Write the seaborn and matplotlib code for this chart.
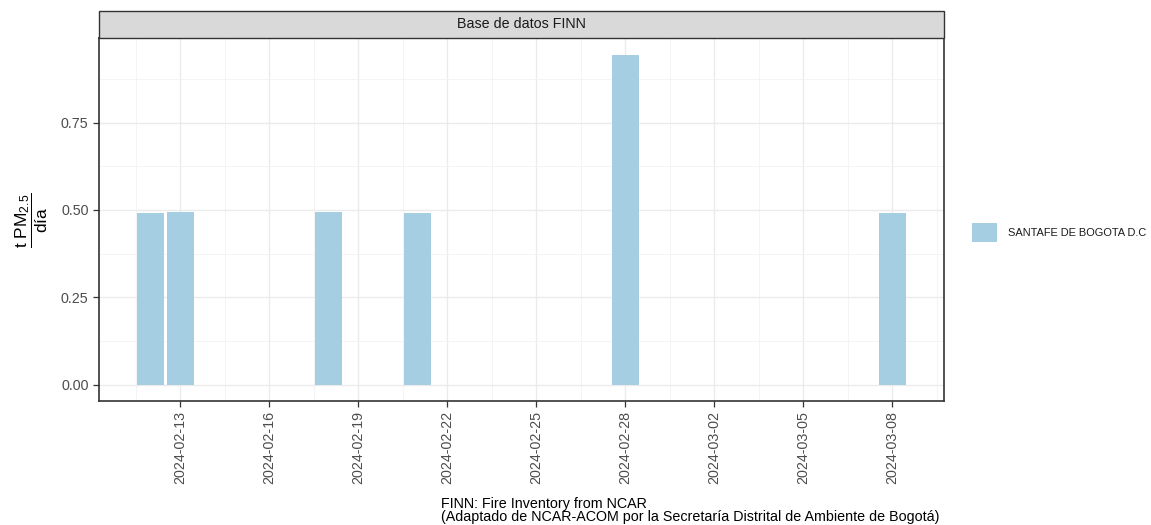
import matplotlib
matplotlib.use("Agg")
import matplotlib.pyplot as plt
import matplotlib.dates as mdates
from matplotlib.ticker import FixedLocator, FuncFormatter
from matplotlib.patches import Rectangle
import seaborn as sns
import pandas as pd
import numpy as np

# ---- data ----
dates = ["2024-02-12", "2024-02-13", "2024-02-18", "2024-02-21", "2024-02-28", "2024-03-08"]
values = [0.491, 0.495, 0.495, 0.491, 0.945, 0.491]
region = "SANTAFE DE BOGOTA D.C"
strip_title = "Base de datos FINN"
x_tick_dates = ["2024-02-13", "2024-02-16", "2024-02-19", "2024-02-22", "2024-02-25",
                "2024-02-28", "2024-03-02", "2024-03-05", "2024-03-08"]
y_ticks = [0.0, 0.25, 0.50, 0.75]
caption = "FINN: Fire Inventory from NCAR\n(Adaptado de NCAR-ACOM por la Secretaría Distrital de Ambiente de Bogotá)"
bar_color = "#A6CEE3"

sns.set_theme(style="white")
plt.rcParams["font.family"] = ["Liberation Sans", "DejaVu Sans"]
plt.rcParams["mathtext.fontset"] = "custom"
plt.rcParams["mathtext.rm"] = "Liberation Sans"
plt.rcParams["mathtext.it"] = "Liberation Sans:italic"

df = pd.DataFrame({
    "fecha": mdates.date2num(pd.to_datetime(dates)),
    "valor": values,
    "region": [region] * len(dates),
})

W, H = 1151, 525
fig = plt.figure(figsize=(W / 100, H / 100), dpi=100)
fig.patch.set_facecolor("white")

def fx(px):
    return px / W

def fy(py):
    return 1 - py / H

pl, pr, pt, pb = 99, 944, 38, 401
ax = fig.add_axes([fx(pl), fy(pb), fx(pr - pl), (pb - pt) / H])

sns.barplot(data=df, x="fecha", y="valor", hue="region", palette=[bar_color],
            native_scale=True, width=0.9, ax=ax, saturation=1, legend=True,
            edgecolor="none", linewidth=0)

# scales
xmin = mdates.date2num(pd.Timestamp("2024-02-12")) - 0.45
xmax = mdates.date2num(pd.Timestamp("2024-03-08")) + 0.45
xr = xmax - xmin
ax.set_xlim(xmin - 0.05 * xr, xmax + 0.05 * xr)
ymax = max(values)
ax.set_ylim(-0.05 * ymax, ymax * 1.05)

xt = mdates.date2num(pd.to_datetime(x_tick_dates))
ax.xaxis.set_major_locator(FixedLocator(xt))
ax.xaxis.set_minor_locator(FixedLocator(np.concatenate([[xt[0] - 1.5], xt + 1.5])))
ax.xaxis.set_major_formatter(FuncFormatter(lambda v, p: mdates.num2date(v).strftime("%Y-%m-%d")))
ax.yaxis.set_major_locator(FixedLocator(y_ticks))
ax.yaxis.set_minor_locator(FixedLocator([0.125, 0.375, 0.625, 0.875]))
ax.yaxis.set_major_formatter(FuncFormatter(lambda v, p: f"{v:.2f}"))

ax.grid(True, which="major", color="#EBEBEB", linewidth=1.0)
ax.grid(True, which="minor", color="#F3F3F3", linewidth=0.6)
ax.set_axisbelow(True)
for s in ax.spines.values():
    s.set_color("#333333")
    s.set_linewidth(1.2)

ax.tick_params(axis="both", which="major", length=4, width=0.9, color="#333333",
               labelcolor="#4D4D4D", labelsize=10.3, bottom=True, left=True)
ax.tick_params(axis="both", which="minor", length=0)
ax.tick_params(axis="x", labelrotation=90, pad=3)
ax.set_xlabel("")
ax.set_ylabel("")

# legend
h, l = ax.get_legend_handles_labels()
ax.get_legend().remove()
fs_leg = 7.9
fig.legend(h, l, loc="center left", bbox_to_anchor=(fx(972), fy(232.5)), frameon=False,
           fontsize=fs_leg, handlelength=25 / (fs_leg * 100 / 72),
           handleheight=25 / (fs_leg * 100 / 72),
           handletextpad=11 / (fs_leg * 100 / 72), borderpad=0, borderaxespad=0,
           labelcolor="#1A1A1A")

# strip
fig.patches.append(Rectangle((fx(pl), fy(pt)), fx(pr - pl), (pt - 11) / H,
                             transform=fig.transFigure, facecolor="#D9D9D9",
                             edgecolor="#333333", linewidth=1.0, zorder=0))
fig.text(fx((pl + pr) / 2), fy(24.5), strip_title, ha="center", va="center",
         fontsize=10.3, color="#1A1A1A")

# y title
fig.text(fx(32), fy(220), r"$\dfrac{\mathrm{t\ PM}_{2.5}}{\mathrm{día}}$", rotation=90,
         ha="center", va="center", fontsize=12.5, color="black")

# caption
fig.text(fx(441), fy(524), caption, ha="left", va="bottom", fontsize=10.3,
         color="black", linespacing=0.95)

fig.savefig("out.png", dpi=100)
